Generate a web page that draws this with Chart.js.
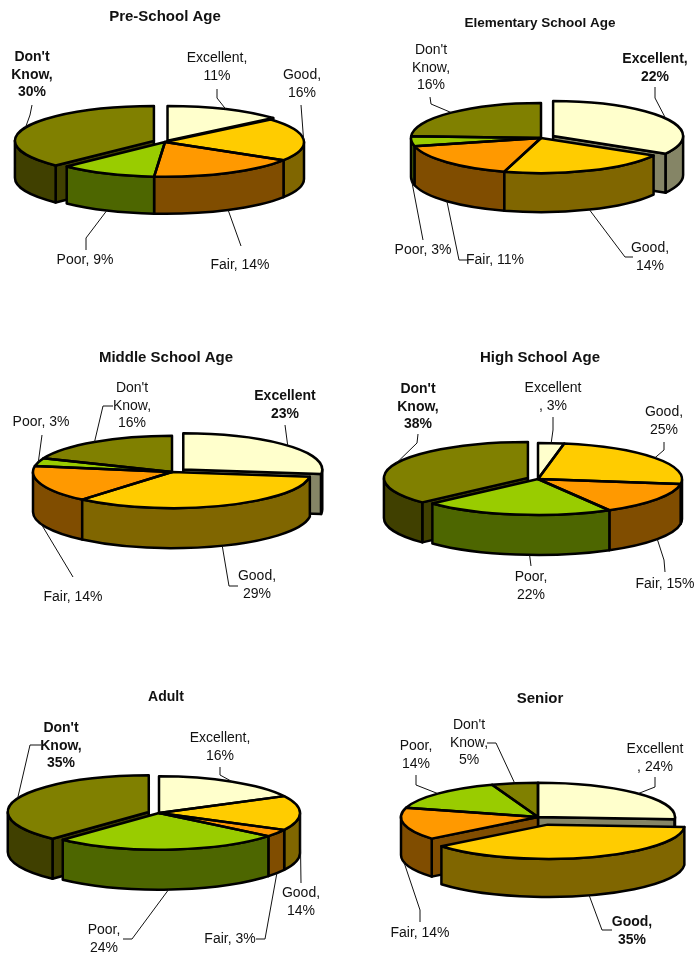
<!DOCTYPE html>
<html><head><meta charset="utf-8">
<script src="https://cdn.jsdelivr.net/npm/chart.js@4"></script>
<style>
html,body{margin:0;padding:0;background:#fff;width:696px;height:955px;overflow:hidden}
#page{position:relative;width:696px;height:955px;overflow:hidden}
canvas{position:absolute;filter:blur(.35px)}
</style></head><body><div id="page"></div>
<script>
const categories = ["Excellent","Good","Fair","Poor","Don't Know"];
const topColors  = ["#FFFFCC","#FFCC00","#FF9900","#99CC00","#808000"];
const sideColors = ["#858566","#806600","#804D00","#4D6600","#404000"];

const titles = ["Pre-School Age","Elementary School Age","Middle School Age","High School Age","Adult","Senior"];
const preSchool  = [11,16,14,9,30];
const elementary = [22,14,11,3,16];
const middle     = [23,29,14,3,16];
const highSchool = [3,25,15,22,38];
const adult      = [16,14,3,24,35];
const senior     = [24,35,14,14,5];

/* how far each slice is pulled out of the pie, in px */
const pullPreSchool  = [6,0,0,0,12];
const pullElementary = [14,0,0,0,0];
const pullMiddle     = [15,0,0,0,0];
const pullHighSchool = [0,0,0,0,11];
const pullAdult      = [0,0,0,0,11];
const pullSenior     = [0,32,0,0,0];

/* page layout of every panel */
const layouts = [
 {values:preSchool, pull:pullPreSchool, titleX:165,titleY:17, titleSize:15,  top:0,  h:340, cx:165,cy:142,r:139,k:.25,depth:37},
 {values:elementary,pull:pullElementary,titleX:540,titleY:23, titleSize:13.5,top:0,  h:340, cx:541,cy:138,r:130,k:.27,depth:39},
 {values:middle,    pull:pullMiddle,    titleX:166,titleY:358,titleSize:15,  top:340,h:340, cx:172,cy:472,r:139,k:.26,depth:40},
 {values:highSchool,pull:pullHighSchool,titleX:540,titleY:358,titleSize:15,  top:340,h:340, cx:538,cy:479,r:144,k:.25,depth:40},
 {values:adult,     pull:pullAdult,     titleX:166,titleY:697,titleSize:14,  top:680,h:275, cx:159,cy:813,r:141,k:.26,depth:40},
 {values:senior,    pull:pullSenior,    titleX:540,titleY:699,titleSize:15,  top:680,h:275, cx:538,cy:817,r:137,k:.25,depth:38}
];

/* data labels: text lines, centre x, first-line y, leader elbows; one label per slice, in category order */
const labelsPreSchool = [
 {t:["Excellent,","11%"],x:217,y:58,p:[[217,89],[217,98]]},
 {t:["Good,","16%"],x:302,y:75,p:[[301,105]]},
 {t:["Fair, 14%"],x:240,y:265,p:[[241,246]]},
 {t:["Poor, 9%"],x:85,y:260,p:[[86,250],[86,238]]},
 {t:["Don't","Know,","30%"],x:32,y:57,b:1,p:[[32,105],[30,115]]}];
const labelsElementary = [
 {t:["Excellent,","22%"],x:655,y:59,b:1,p:[[655,87],[655,98]]},
 {t:["Good,","14%"],x:650,y:248,p:[[633,257],[625,257]]},
 {t:["Fair, 11%"],x:495,y:260,p:[[468,260],[459,260]]},
 {t:["Poor, 3%"],x:423,y:250,p:[[423,240]]},
 {t:["Don't","Know,","16%"],x:431,y:50,p:[[430,97],[431,104]]}];
const labelsMiddle = [
 {t:["Excellent","23%"],x:285,y:396,b:1,p:[[285,425]]},
 {t:["Good,","29%"],x:257,y:576,p:[[238,586],[229,586]]},
 {t:["Fair, 14%"],x:73,y:597,p:[[73,577]]},
 {t:["Poor, 3%"],x:41,y:422,p:[[42,435]]},
 {t:["Don't","Know,","16%"],x:132,y:388,p:[[113,406],[103,406]]}];
const labelsHighSchool = [
 {t:["Excellent",", 3%"],x:553,y:388,p:[[553,417],[553,430]]},
 {t:["Good,","25%"],x:664,y:412,p:[[664,442],[664,450]]},
 {t:["Fair, 15%"],x:665,y:584,p:[[665,572],[664,560]]},
 {t:["Poor,","22%"],x:531,y:577,at:.43,p:[[531,566]]},
 {t:["Don't","Know,","38%"],x:418,y:389,b:1,p:[[418,434],[417,443]]}];
const labelsAdult = [
 {t:["Excellent,","16%"],x:220,y:738,p:[[220,767],[220,775]]},
 {t:["Good,","14%"],x:301,y:893,p:[[301,883]]},
 {t:["Fair, 3%"],x:230,y:939,p:[[256,939],[265,939]]},
 {t:["Poor,","24%"],x:104,y:930,p:[[123,939],[132,939]]},
 {t:["Don't","Know,","35%"],x:61,y:728,b:1,p:[[41,745],[30,745]]}];
const labelsSenior = [
 {t:["Excellent",", 24%"],x:655,y:749,p:[[655,777],[655,787]]},
 {t:["Good,","35%"],x:632,y:922,b:1,p:[[612,930],[602,930]]},
 {t:["Fair, 14%"],x:420,y:933,p:[[420,922],[420,910]]},
 {t:["Poor,","14%"],x:416,y:746,p:[[416,775],[416,785]]},
 {t:["Don't","Know,","5%"],x:469,y:725,p:[[487,743],[496,743]]}];
const allLabels = [labelsPreSchool,labelsElementary,labelsMiddle,labelsHighSchool,labelsAdult,labelsSenior];

const FONT = '"Liberation Sans", Arial, sans-serif';
const LABEL_SIZE = 14, LINE_H = 17.7, EDGE = 2.5;

function geom(arc, L){
  const off = (arc.options.offset||0)/4;
  const half = (arc.startAngle+arc.endAngle)/2;
  const ax = L.cx + Math.cos(half)*off;
  const ay = L.cy + Math.sin(half)*off*L.k;
  return {ax,ay,R:L.r,Ry:L.r*L.k,s:arc.startAngle,e:arc.endAngle,half,off};
}
function rim(g,t){return [g.ax+g.R*Math.cos(t), g.ay+g.Ry*Math.sin(t)];}

function makePie3d(n){
  const L=layouts[n], labels=allLabels[n], left=L.titleX-174;
  return {
  id:'pie3d',
  afterDatasetsUpdate(chart){
    /* keep the drawn radius equal to the layout radius for pulled slices */
    chart.getDatasetMeta(0).data.forEach(arc=>{
      const off=(arc.options.offset||0)/4;
      const fix=1-Math.sin(Math.min(Math.PI,arc.circumference||0));
      arc.outerRadius = L.r - off*fix;
    });
  },
  beforeDatasetsDraw(chart){
    const ctx=chart.ctx, d=L.depth;
    const arcs=chart.getDatasetMeta(0).data;
    const gs=arcs.map(a=>geom(a,L));
    ctx.save();
    ctx.translate(-left,-L.top);
    ctx.lineWidth=EDGE; ctx.lineJoin='round'; ctx.strokeStyle='#000';
    const order=gs.map((g,i)=>({i,g}))
      .sort((p,q)=>(p.g.ay+p.g.Ry*Math.sin(p.g.half))-(q.g.ay+q.g.Ry*Math.sin(q.g.half)));
    const face=(g,t)=>{
      const [x,y]=rim(g,t);
      ctx.beginPath();ctx.moveTo(g.ax,g.ay);ctx.lineTo(x,y);ctx.lineTo(x,y+d);ctx.lineTo(g.ax,g.ay+d);ctx.closePath();
      ctx.fill();ctx.stroke();
    };
    const N=gs.length;
    order.forEach(({i,g})=>{
      ctx.fillStyle=sideColors[i];
      const prev=gs[(i+N-1)%N], next=gs[(i+1)%N];
      /* a cut face only shows where a neighbour has been pulled apart */
      if(-Math.cos(g.s)>1e-6 && (g.off||prev.off)) face(g,g.s);
      if(Math.cos(g.e)>1e-6 && (g.off||next.off)) face(g,g.e);
      const a=Math.max(g.s,0), b=Math.min(g.e,Math.PI);
      if(b>a){
        ctx.beginPath();
        ctx.ellipse(g.ax,g.ay,g.R,g.Ry,0,a,b);
        ctx.ellipse(g.ax,g.ay+d,g.R,g.Ry,0,b,a,true);
        ctx.closePath();ctx.fill();ctx.stroke();
      }
    });
    ctx.restore();
    /* the library's own arcs draw the top faces through this squash */
    const a0=arcs[0];
    ctx.save();
    ctx.translate(-left,-L.top);
    ctx.translate(L.cx,L.cy);
    ctx.scale(1,L.k);
    ctx.translate(-a0.x,-a0.y);
  },
  afterDatasetsDraw(chart){
    const ctx=chart.ctx;
    ctx.restore();
    const arcs=chart.getDatasetMeta(0).data;
    ctx.save();
    ctx.translate(-left,-L.top);
    ctx.lineWidth=EDGE; ctx.lineJoin='round'; ctx.strokeStyle='#000';
    arcs.forEach(a=>{
      const g=geom(a,L);
      ctx.beginPath();ctx.moveTo(g.ax,g.ay);
      ctx.ellipse(g.ax,g.ay,g.R,g.Ry,0,g.s,g.e);
      ctx.closePath();ctx.stroke();
    });
    /* leaders and labels */
    labels.forEach((lb,i)=>{
      const g=geom(arcs[i],L);
      const frac=lb.at===undefined?0.5:lb.at;
      const t=g.s+frac*(g.e-g.s);
      const pt0=rim(g,t);
      const ex=pt0[0], ey=pt0[1]+(Math.sin(t)>0?L.depth:0);
      ctx.beginPath();ctx.lineWidth=1;ctx.strokeStyle='#111';
      lb.p.forEach((pt,j)=>j?ctx.lineTo(pt[0],pt[1]):ctx.moveTo(pt[0],pt[1]));
      ctx.lineTo(ex,ey);ctx.stroke();
      ctx.fillStyle='#111';ctx.textAlign='center';ctx.textBaseline='middle';
      ctx.font=(lb.b?'bold ':'')+LABEL_SIZE+'px '+FONT;
      lb.t.forEach((s,j)=>ctx.fillText(s,lb.x,lb.y+j*LINE_H));
    });
    ctx.restore();
  }};
}

const page=document.getElementById('page');
layouts.forEach((L,n)=>{
  const W=348, left=L.titleX-W/2;
  const c=document.createElement('canvas');
  c.width=W;c.height=L.h;
  c.style.cssText=`left:${left}px;top:${L.top}px;width:${W}px;height:${L.h}px`;
  page.appendChild(c);
  new Chart(c,{
    type:'pie',
    data:{labels:categories,datasets:[{
      data:L.values,backgroundColor:topColors,borderWidth:0,offset:L.pull.map(v=>v*4),clip:false
    }]},
    options:{
      responsive:false,animation:false,radius:L.r,
      layout:{padding:0},
      plugins:{
        legend:{display:false},tooltip:{enabled:false},
        title:{display:true,text:titles[n],color:'#111',
          font:{family:FONT,size:L.titleSize,weight:'bold',lineHeight:1.2},
          padding:{top:L.titleY-L.top-L.titleSize*0.6,bottom:0}}
      }
    },
    plugins:[makePie3d(n)]
  });
});
</script></body></html>
